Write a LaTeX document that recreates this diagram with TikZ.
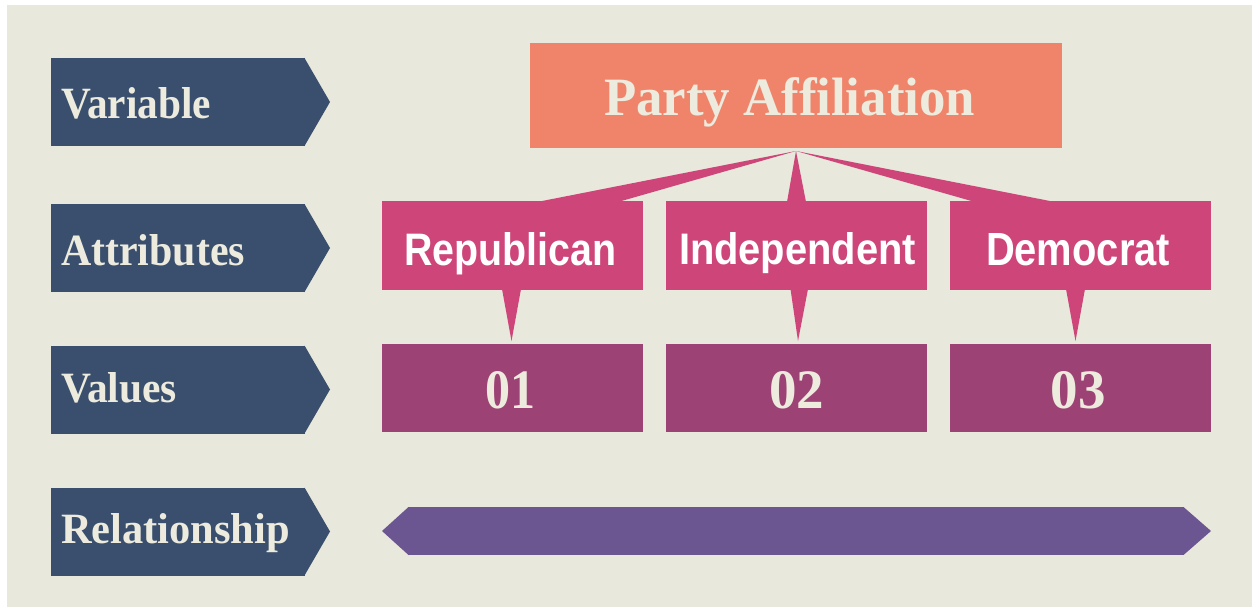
\documentclass[tikz,border=0pt]{standalone}
\usepackage{fontspec}
\usepackage{graphicx}
\newfontfamily\sansb{Liberation Sans}
\newfontfamily\serifb{Liberation Serif}
\definecolor{bgc}{HTML}{E8E8DC}
\definecolor{navyc}{HTML}{394F6D}
\definecolor{creamc}{HTML}{EDEBDD}
\definecolor{orangec}{HTML}{F0846B}
\definecolor{pinkc}{HTML}{CE4679}
\definecolor{plumc}{HTML}{9D4274}
\definecolor{purplec}{HTML}{6C5692}
\tikzset{
  box/.style={rectangle, inner sep=0pt, outer sep=0pt, draw=none},
  labelbox/.style={box, fill=navyc, minimum width=254pt, minimum height=88pt},
  attrbox/.style={box, fill=pinkc, minimum width=261pt, minimum height=89pt},
  valbox/.style={box, fill=plumc, minimum width=261pt, minimum height=88pt},
  txt/.style={inner sep=0pt, outer sep=0pt},
  serift/.style={txt, text=creamc, font=\serifb\bfseries},
  sanst/.style={txt, text=white, font=\sansb\bfseries},
}
\newcommand{\fitbox}[3]{\resizebox{#1pt}{#2pt}{#3}}
\begin{document}
\begin{tikzpicture}[x=1pt, y=-1pt]
\useasboundingbox (0,0) rectangle (1252,607);
\fill[white] (0,0) rectangle (1252,607);
\fill[bgc] (7,5) rectangle (1253,608);

% left labels
\node[labelbox] (lvar) at (178,102) {};
\node[labelbox] (latt) at (178,248) {};
\node[labelbox] (lval) at (178,389.5) {};
\node[labelbox] (lrel) at (178,531.5) {};
\foreach \n in {lvar,latt,lval,lrel}{
  \fill[navyc] ([xshift=-0.5pt]\n.north east) -- ([xshift=25pt]\n.east) -- ([xshift=-0.5pt]\n.south east) -- cycle;
}
\node[serift, anchor=base west] (tvar) at (61,119) {\fitbox{150}{31}{Variable}};
\node[serift, anchor=base west] (tatt) at (61,265) {\fitbox{184}{31}{Attributes}};
\node[serift, anchor=base west] (tval) at (61,402) {\fitbox{116}{30}{Values}};
\node[serift, anchor=base west] (trel) at (61,543) {\fitbox{229}{30}{Relationship}};

% variable box
\node[box, fill=orangec, minimum width=532pt, minimum height=105pt] (party) at (796,95.5) {};
\node[serift, anchor=base west] (tparty) at (604,115) {\fitbox{371}{38}{Party Affiliation}};
\coordinate (apex) at (796,151);

% attribute boxes
\node[attrbox] (rep) at (512.5,245.5) {};
\node[attrbox] (ind) at (796.5,245.5) {};
\node[attrbox] (dem) at (1080.5,245.5) {};

% value boxes
\node[valbox] (v1) at (512.5,388) {};
\node[valbox] (v2) at (796.5,388) {};
\node[valbox] (v3) at (1080.5,388) {};

% wedges from variable to attributes
\fill[pinkc] (apex) -- ([xshift=24.5pt,yshift=-1pt]rep.north) -- ([xshift=105.5pt,yshift=-1pt]rep.north) -- cycle;
\fill[pinkc] (apex) -- ([xshift=-9.5pt,yshift=-1pt]ind.north) -- ([xshift=9.5pt,yshift=-1pt]ind.north) -- cycle;
\fill[pinkc] (apex) -- ([xshift=-105.5pt,yshift=-1pt]dem.north) -- ([xshift=-25.5pt,yshift=-1pt]dem.north) -- cycle;

% wedges from attributes to values
\coordinate (t1) at ([xshift=-1pt,yshift=3pt]v1.north);
\coordinate (t2) at ([xshift=1.5pt,yshift=3pt]v2.north);
\coordinate (t3) at ([xshift=-5pt,yshift=3pt]v3.north);
\fill[pinkc] ([xshift=-10.5pt,yshift=1pt]rep.south) -- ([xshift=8.5pt,yshift=1pt]rep.south) -- (t1) -- cycle;
\fill[pinkc] ([xshift=-6pt,yshift=1pt]ind.south) -- ([xshift=11.5pt,yshift=1pt]ind.south) -- (t2) -- cycle;
\fill[pinkc] ([xshift=-14.5pt,yshift=1pt]dem.south) -- ([xshift=4.5pt,yshift=1pt]dem.south) -- (t3) -- cycle;

% attribute texts
\node[sanst, anchor=base west] (trep) at (404,265) {\fitbox{212}{33}{Republican}};
\node[sanst, anchor=base west] (tind) at (679,264.5) {\fitbox{237}{32}{Independent}};
\node[sanst, anchor=base west] (tdem) at (986,265) {\fitbox{184}{32}{Democrat}};

% value texts
\node[serift, anchor=base] (tv1) at (510.5,408) {\fitbox{50}{37}{01}};
\node[serift, anchor=base] (tv2) at (796.5,408) {\fitbox{55}{37}{02}};
\node[serift, anchor=base] (tv3) at (1078,408) {\fitbox{55}{37}{03}};

% relationship arrow
\node[box, fill=purplec, minimum width=776pt, minimum height=48pt] (rel) at (796,531) {};
\fill[purplec] ([xshift=0.5pt]rel.north west) -- ([xshift=-26pt]rel.west) -- ([xshift=0.5pt]rel.south west) -- cycle;
\fill[purplec] ([xshift=-0.5pt]rel.north east) -- ([xshift=27pt]rel.east) -- ([xshift=-0.5pt]rel.south east) -- cycle;
\end{tikzpicture}
\end{document}
